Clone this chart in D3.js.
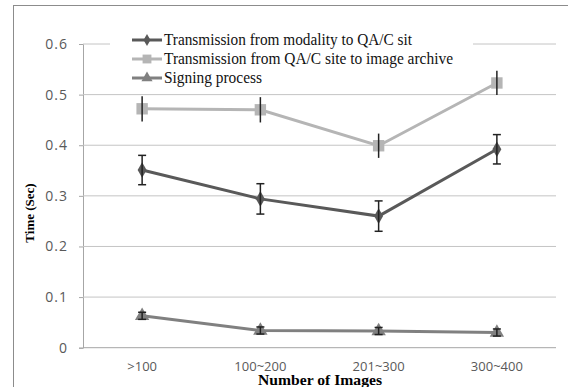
<!DOCTYPE html>
<html>
<head>
<meta charset="utf-8">
<script src="https://cdn.jsdelivr.net/npm/d3@7"></script>
<style>
  body { margin: 0; background: #fff; }
  svg { display: block; }
</style>
</head>
<body>
<div id="chart"></div>
<script>
// data
const categories = ['>100', '100~200', '201~300', '300~400'];
const seriesNames = [
  'Transmission from modality to QA/C sit',
  'Transmission from QA/C site to image archive',
  'Signing process'
];
const modalityToQA = [0.351, 0.294, 0.26, 0.392];
const modalityErr = [0.029, 0.030, 0.030, 0.029];
const qaToArchive = [0.472, 0.470, 0.399, 0.523];
const archiveErr = [0.025, 0.025, 0.024, 0.024];
const signing = [0.063, 0.034, 0.033, 0.030];
const signingErr = [0.007, 0.007, 0.007, 0.007];
const yTicks = [0, 0.1, 0.2, 0.3, 0.4, 0.5, 0.6];

const W = 568, H = 387;
const plotL = 83, plotR = 556, plotT = 44, plotB = 347.7;

const svg = d3.select('#chart').append('svg')
  .attr('width', W).attr('height', H);

// outer frame (right and bottom edges fall outside the crop)
svg.append('rect')
  .attr('x', 13.5).attr('y', 5.5)
  .attr('width', W).attr('height', H)
  .attr('fill', 'none').attr('stroke', '#8c8c8c').attr('stroke-width', 1);

const x = d3.scaleBand().domain(categories).range([plotL, plotR]);
const y = d3.scaleLinear().domain([0, 0.6]).range([plotB, plotT]);

// y axis + gridlines
const yAxis = svg.append('g')
  .attr('transform', `translate(${plotL},0)`)
  .call(d3.axisLeft(y).tickValues(yTicks).tickSize(4).tickPadding(11)
    .tickFormat(d => d === 0 ? '0' : d3.format('.1f')(d)));
yAxis.select('.domain').attr('stroke', '#a6a6a6');
yAxis.selectAll('.tick line').attr('stroke', '#a6a6a6');
yAxis.selectAll('.tick text')
  .attr('fill', '#595959')
  .style('font-family', '"Open Sans", sans-serif')
  .style('font-size', '14px')
  .style('letter-spacing', '1px');

svg.append('g').selectAll('line.grid')
  .data(yTicks.filter(d => d > 0))
  .enter().append('line')
  .attr('x1', plotL).attr('x2', plotR)
  .attr('y1', d => y(d)).attr('y2', d => y(d))
  .attr('stroke', '#c4c4c4').attr('stroke-width', 1);

// x axis labels (no axis line beyond the 0 gridline)
svg.append('line')
  .attr('x1', plotL).attr('x2', plotR)
  .attr('y1', y(0)).attr('y2', y(0))
  .attr('stroke', '#a6a6a6');
const xAxis = svg.append('g')
  .attr('transform', `translate(0,${plotB})`)
  .call(d3.axisBottom(x).tickSize(0).tickPadding(14));
xAxis.select('.domain').remove();
xAxis.selectAll('.tick text')
  .attr('fill', '#595959')
  .style('font-family', '"Open Sans", sans-serif')
  .style('font-size', '13px');

// axis titles
svg.append('text')
  .attr('x', 320).attr('y', 385)
  .attr('text-anchor', 'middle')
  .attr('textLength', 124).attr('lengthAdjust', 'spacingAndGlyphs')
  .style('font-family', '"Liberation Serif", serif')
  .style('font-weight', 'bold').style('font-size', '15px')
  .text('Number  of Images');
svg.append('text')
  .attr('transform', 'translate(34,213) rotate(-90)')
  .attr('text-anchor', 'middle')
  .style('font-family', '"Liberation Serif", serif')
  .style('font-weight', 'bold').style('font-size', '13px')
  .text('Time (Sec)');

const series = [
  { name: seriesNames[0], values: modalityToQA, err: modalityErr, color: '#595959', symbol: d3.symbolDiamond, size: 70, cap: 4, legendLen: 248 },
  { name: seriesNames[1], values: qaToArchive, err: archiveErr, color: '#b5b5b5', symbol: d3.symbolSquare, size: 130, cap: 0, legendLen: 289 },
  { name: seriesNames[2], values: signing, err: signingErr, color: '#808080', symbol: d3.symbolTriangle, size: 90, cap: 4, legendLen: 98 }
];

const cx = c => x(c) + x.bandwidth() / 2;
const line = d3.line().x(d => cx(d.c)).y(d => y(d.v));

series.forEach(s => {
  const pts = categories.map((c, i) => ({ c, v: s.values[i], e: s.err[i] }));
  const g = svg.append('g');
  g.append('path').datum(pts)
    .attr('d', line)
    .attr('fill', 'none').attr('stroke', s.color).attr('stroke-width', 3);
  g.selectAll('path.mk').data(pts).enter().append('path')
    .attr('class', 'mk')
    .attr('d', d3.symbol().type(s.symbol).size(s.size))
    .attr('transform', d => `translate(${cx(d.c)},${y(d.v)})`)
    .attr('fill', s.color);
  // error bars
  const eb = g.selectAll('g.eb').data(pts).enter().append('g')
    .attr('stroke', '#222').attr('stroke-width', 1.5);
  eb.append('line')
    .attr('x1', d => cx(d.c)).attr('x2', d => cx(d.c))
    .attr('y1', d => y(d.v + d.e)).attr('y2', d => y(d.v - d.e));
  if (s.cap > 0) {
    [1, -1].forEach(k => {
      eb.append('line')
        .attr('x1', d => cx(d.c) - s.cap).attr('x2', d => cx(d.c) + s.cap)
        .attr('y1', d => y(d.v + k * d.e)).attr('y2', d => y(d.v + k * d.e));
    });
  }
});

// legend
const legend = svg.append('g');
legend.append('rect')
  .attr('x', 110).attr('y', 28).attr('width', 363).attr('height', 60)
  .attr('fill', '#fff');
series.forEach((s, i) => {
  const ly = 40 + i * 19;
  legend.append('line')
    .attr('x1', 132).attr('x2', 162).attr('y1', ly).attr('y2', ly)
    .attr('stroke', s.color).attr('stroke-width', 3);
  legend.append('path')
    .attr('d', d3.symbol().type(s.symbol).size(s.size * 0.6))
    .attr('transform', `translate(147,${ly})`)
    .attr('fill', s.color);
  legend.append('text')
    .attr('x', 164).attr('y', ly + 5)
    .attr('textLength', s.legendLen).attr('lengthAdjust', 'spacingAndGlyphs')
    .style('font-family', '"Liberation Serif", serif')
    .style('font-size', '16px')
    .attr('fill', '#111')
    .text(s.name);
});
</script>
</body>
</html>
